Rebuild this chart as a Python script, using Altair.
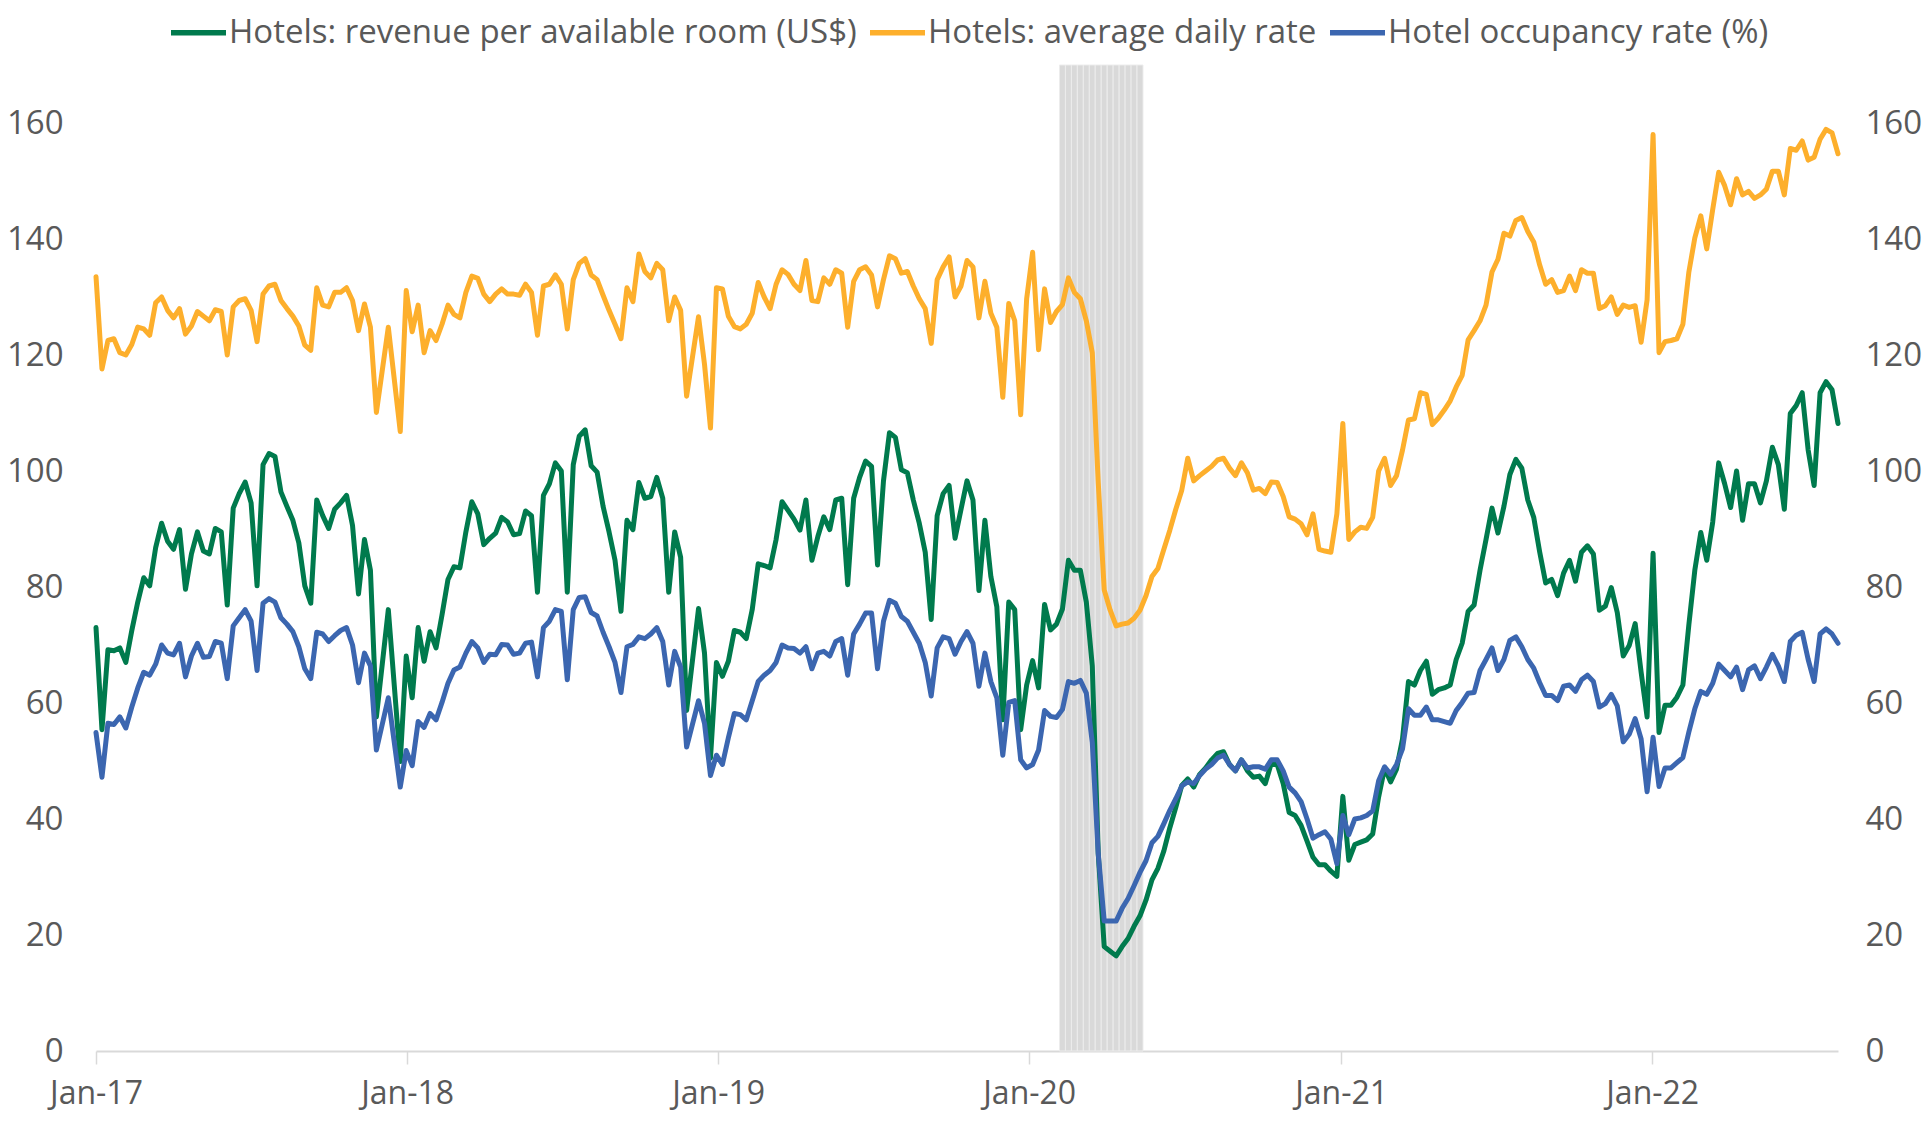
import json
import altair as alt
import pandas as pd

# ---- data (weekly, week 0 = first week of Jan 2017) ----
weeks = list(range(0, 48)) + [49] + list(range(51, 100)) + list(range(101, 293))

adr = [
    133.5, 117.6, 122.5, 122.8, 120.4, 120.0, 121.8, 124.8, 124.5, 123.4,
    129.0, 130.0, 127.7, 126.4, 128.0, 123.6, 125.0, 127.5, 126.7, 125.9,
    127.8, 127.5, 120.0, 128.3, 129.4, 129.7, 127.7, 122.3, 130.5, 131.9,
    132.2, 129.4, 128.0, 126.7, 125.0, 121.7, 120.8, 131.6, 128.6, 128.3,
    130.8, 130.8, 131.6, 129.4, 124.2, 128.8, 124.8, 110.1,
    124.8,
    106.8, 131.1, 124.0, 128.6, 120.4, 124.2, 122.5, 125.3, 128.6,
    127.0, 126.4, 130.8, 133.6, 133.2, 130.5, 129.2, 130.5, 131.4, 130.5,
    130.5, 130.3, 132.2, 130.8, 123.4, 131.9, 132.2, 133.8, 132.2, 124.5,
    133.0, 135.8, 136.6, 133.8, 133.0, 130.3, 127.7, 125.3, 122.8, 131.6,
    129.2, 137.4, 134.4, 133.3, 135.8, 134.7, 125.9, 130.0, 127.7, 112.9,
    126.6, 118.4, 107.4, 131.6, 131.4, 126.7, 124.9, 124.5, 125.3,
    127.2, 132.5, 130.0, 128.0, 132.2, 134.7, 133.9, 132.2, 131.1, 136.3,
    129.4, 129.2, 133.3, 132.2, 134.7, 134.1, 124.8, 132.7, 134.7, 135.2,
    133.8, 128.3, 133.0, 137.1, 136.6, 134.1, 134.4, 131.9, 129.7, 128.0,
    122.0, 133.0, 135.2, 136.9, 130.0, 131.9, 136.3, 135.2, 126.4, 132.7,
    127.2, 124.8, 112.7, 128.9, 125.9, 109.7, 129.7, 137.7, 120.9, 131.4,
    125.6, 127.5, 128.7, 133.3, 130.8, 129.7, 125.9, 120.4, 98.0, 79.5,
    76.0, 73.3, 73.6, 73.8, 74.6, 76.0, 78.5, 81.8, 83.2, 86.5,
    89.8, 93.4, 96.7, 102.2, 98.3, 99.2, 100.0, 100.8, 101.9, 102.2,
    100.5, 99.2, 101.4, 99.7, 96.7, 97.0, 96.1, 98.1, 98.0, 95.6,
    92.1, 91.7, 90.9, 89.0, 92.6, 86.5, 86.2, 86.0, 92.6, 108.2,
    88.2, 89.5, 90.3, 90.1, 92.0, 100.0, 102.2, 97.5, 99.2, 103.6,
    108.8, 109.0, 113.5, 113.2, 108.0, 109.1, 110.5, 112.1, 114.5, 116.5,
    122.6, 124.2, 125.9, 128.6, 134.3, 136.5, 141.0, 140.5, 143.2, 143.7,
    141.3, 139.5, 135.5, 132.2, 133.0, 130.8, 131.1, 133.6, 131.1, 134.7,
    134.1, 134.1, 128.0, 128.5, 130.0, 127.0, 128.6, 128.2, 128.5, 122.2,
    129.5, 158.0, 120.4, 122.3, 122.5, 122.8, 125.3, 134.3, 140.2, 144.0,
    138.3, 145.1, 151.5, 149.2, 145.9, 150.4, 147.6, 148.2, 147.0, 147.6,
    148.6, 151.7, 151.7, 147.6, 155.6, 155.3, 156.9, 153.6, 154.1, 157.2,
    158.9, 158.3, 154.7,
]

revpar = [
    73.0, 55.4, 69.2, 69.0, 69.5, 67.0, 72.5, 77.4, 81.6, 80.2,
    86.8, 91.0, 87.9, 86.5, 89.9, 79.6, 85.7, 89.5, 86.2, 85.7,
    90.1, 89.5, 76.9, 93.6, 96.1, 98.1, 94.5, 80.2, 101.1, 103.0,
    102.5, 96.4, 93.9, 91.5, 87.6, 80.2, 77.2, 95.0, 92.3, 90.1,
    93.4, 94.5, 95.8, 90.6, 78.8, 88.2, 82.9, 57.6,
    76.1,
    49.9, 68.1, 60.9, 73.0, 67.2, 72.3, 69.5, 75.2, 81.3,
    83.5, 83.3, 89.5, 94.7, 92.6, 87.3, 88.4, 89.3, 92.0, 91.2,
    89.0, 89.2, 93.1, 92.3, 79.1, 95.8, 97.8, 101.4, 100.0, 79.1,
    101.1, 106.0, 107.1, 100.9, 99.8, 93.9, 89.5, 84.6, 75.8, 91.5,
    89.9, 98.0, 95.3, 95.6, 98.9, 95.3, 79.1, 89.5, 85.1, 58.7,
    76.3, 68.6, 50.5, 67.0, 64.6, 67.2, 72.5, 72.2, 71.1,
    76.1, 84.0, 83.7, 83.3, 88.2, 94.7, 93.2, 91.7, 89.8, 95.0,
    84.6, 88.7, 92.1, 89.9, 95.0, 95.3, 80.4, 95.3, 98.9, 101.7,
    100.8, 83.8, 98.3, 106.6, 105.8, 100.2, 99.7, 95.0, 91.0, 86.0,
    74.4, 92.3, 96.1, 97.5, 88.4, 93.4, 98.3, 95.0, 79.4, 91.5,
    81.8, 76.6, 57.1, 77.4, 76.1, 55.4, 63.1, 67.3, 62.6, 77.0,
    72.6, 73.6, 76.2, 84.6, 82.9, 82.9, 77.4, 66.4, 34.0, 18.0,
    17.2, 16.4, 18.0, 19.4, 21.5, 23.3, 26.0, 29.5, 31.5, 34.5,
    38.5, 42.0, 45.8, 46.9, 45.5, 47.7, 48.8, 50.2, 51.3, 51.6,
    49.4, 48.3, 50.2, 48.3, 47.2, 47.4, 46.1, 49.6, 49.4, 46.1,
    41.1, 40.6, 38.9, 36.2, 33.4, 32.1, 32.1, 31.0, 30.1, 43.9,
    32.9, 35.6, 36.0, 36.4, 37.4, 43.8, 48.8, 46.4, 48.6, 53.8,
    63.7, 63.1, 65.6, 67.2, 61.5, 62.3, 62.6, 63.1, 67.5, 70.3,
    75.8, 76.9, 82.9, 88.2, 93.6, 89.3, 93.9, 99.4, 102.0, 100.5,
    95.0, 92.0, 86.0, 80.7, 81.3, 78.5, 82.4, 84.6, 81.0, 86.0,
    87.1, 85.7, 76.0, 76.7, 79.9, 75.6, 68.1, 69.9, 73.7, 65.3,
    57.6, 85.8, 54.9, 59.6, 59.6, 61.0, 63.1, 73.5, 82.9, 89.4,
    84.6, 91.2, 101.4, 97.8, 93.7, 100.0, 91.5, 97.8, 97.8, 94.5,
    98.3, 104.1, 101.1, 93.4, 109.9, 111.3, 113.5, 103.6, 97.5, 113.5,
    115.4, 114.0, 108.2,
]

occupancy = [
    54.9, 47.2, 56.5, 56.3, 57.6, 55.7, 59.3, 62.6, 65.3, 64.8,
    66.7, 70.0, 68.6, 68.3, 70.3, 64.5, 68.1, 70.3, 67.9, 68.0,
    70.6, 70.3, 64.2, 73.3, 74.7, 76.1, 74.1, 65.6, 77.2, 78.0,
    77.4, 74.7, 73.6, 72.3, 69.7, 65.9, 64.2, 72.2, 71.9, 70.6,
    71.6, 72.5, 73.0, 70.0, 63.5, 68.6, 66.4, 51.9,
    60.9,
    45.5, 51.8, 49.2, 56.8, 55.8, 58.2, 57.1, 60.1, 63.4,
    65.7, 66.2, 68.6, 70.6, 69.5, 67.0, 68.4, 68.3, 70.1, 70.0,
    68.4, 68.6, 70.3, 70.5, 64.5, 73.0, 74.1, 76.1, 75.8, 64.0,
    76.1, 78.2, 78.3, 75.6, 75.0, 72.2, 69.7, 67.0, 61.8, 69.7,
    70.1, 71.4, 71.1, 71.9, 73.0, 70.6, 63.1, 68.9, 66.2, 52.4,
    60.4, 56.5, 47.5, 51.0, 49.4, 54.0, 58.2, 58.0, 57.1,
    60.4, 63.7, 64.8, 65.6, 67.0, 70.0, 69.5, 69.4, 68.6, 69.7,
    65.9, 68.6, 68.9, 68.1, 70.6, 71.1, 64.8, 71.9, 73.6, 75.5,
    75.5, 65.9, 74.1, 77.7, 77.2, 74.9, 74.1, 72.2, 70.3, 67.0,
    61.2, 69.5, 71.4, 71.1, 68.4, 70.6, 72.3, 70.3, 62.9, 68.6,
    63.7, 60.9, 51.0, 60.1, 60.4, 50.2, 48.8, 49.4, 51.9, 58.7,
    57.7, 57.5, 58.9, 63.7, 63.4, 63.9, 61.7, 53.2, 34.0, 22.4,
    22.4, 22.4, 24.6, 26.3, 28.5, 30.8, 32.8, 35.9, 37.0, 39.2,
    41.5, 43.5, 45.7, 46.4, 46.1, 47.5, 48.6, 49.4, 50.5, 51.0,
    49.4, 48.3, 50.2, 48.8, 49.0, 49.0, 48.6, 50.2, 50.2, 48.3,
    45.5, 44.5, 43.0, 40.0, 36.7, 37.3, 37.8, 36.5, 32.3, 40.6,
    37.3, 40.0, 40.2, 40.6, 41.4, 46.6, 49.0, 47.7, 49.4, 52.1,
    59.0, 57.9, 57.9, 59.3, 57.1, 57.1, 56.8, 56.5, 58.7, 60.1,
    61.7, 61.8, 65.6, 67.5, 69.5, 65.6, 67.5, 70.8, 71.4, 69.7,
    67.5, 66.0, 63.5, 61.3, 61.3, 60.4, 62.9, 63.1, 62.0, 64.0,
    64.8, 63.7, 59.3, 59.9, 61.5, 59.5, 53.3, 54.6, 57.3, 53.8,
    44.7, 54.1, 45.6, 48.8, 48.8, 49.7, 50.6, 55.0, 59.0, 62.0,
    61.5, 63.4, 66.7, 65.6, 64.5, 66.2, 62.3, 65.7, 66.4, 64.2,
    66.2, 68.4, 66.4, 63.7, 70.6, 71.7, 72.2, 67.5, 63.7, 71.9,
    72.8, 71.9, 70.3,
]

series_names = [
    "Hotels: revenue per available room (US$)",
    "Hotels: average daily rate",
    "Hotel occupancy rate (%)",
]
series_colors = ["#007A4D", "#FDAF2C", "#3B66B0"]

# x-axis ticks: 1 January of each year, expressed in weeks since 1 Jan 2017
year_tick_weeks = [0, 52.143, 104.286, 156.429, 208.714, 260.857]
year_labels = ["Jan-17", "Jan-18", "Jan-19", "Jan-20", "Jan-21", "Jan-22"]

# recession shading (weekly columns, Feb–Apr 2020)
band_weeks = [162, 163, 164, 165, 166, 167, 168, 169, 170, 171, 172, 173, 174, 175]

y_ticks = [0, 20, 40, 60, 80, 100, 120, 140, 160]

# ---- build tables ----
assert len(weeks) == len(adr) == len(revpar) == len(occupancy), (
    len(weeks), len(adr), len(revpar), len(occupancy))

rows = []
for name, vals in zip(series_names, [revpar, adr, occupancy]):
    for w, v in zip(weeks, vals):
        rows.append({"week": w, "value": v, "series": name})
df = pd.DataFrame(rows)

band_df = pd.DataFrame({
    "x0": [w - 0.5 for w in band_weeks],
    "x1": [w + 0.5 for w in band_weeks],
    "y0": [0] * len(band_weeks),
    "y1": [170] * len(band_weeks),
})

FONT = "Open Sans"
TXT = "#595959"

xscale = alt.Scale(domain=[0, 292], nice=False, zero=False)
yscale = alt.Scale(domain=[0, 170], nice=False)

label_expr = json.dumps(year_labels) + "[round(datum.value / 52.18)]"
xaxis = alt.Axis(
    values=year_tick_weeks, labelExpr=label_expr, title=None, grid=False,
    domainColor="#d9d9d9", domainWidth=2, tickColor="#d9d9d9", tickWidth=1.5,
    tickSize=13, labelFontSize=32, labelFont=FONT, labelColor=TXT,
    labelPadding=14, labelOverlap=False, labelFlush=False,
)
left_axis = alt.Axis(
    values=y_ticks, orient="left", title=None, grid=False, domain=False,
    ticks=False, labelFontSize=33, labelFont=FONT, labelColor=TXT,
    labelPadding=33,
)
right_axis = alt.Axis(
    values=y_ticks, orient="right", title=None, grid=False, domain=False,
    ticks=False, labelFontSize=33, labelFont=FONT, labelColor=TXT,
    labelPadding=27,
)

color_scale = alt.Scale(domain=series_names, range=series_colors)
legend = alt.Legend(
    title=None, orient="none", legendX=72, legendY=-63, direction="horizontal",
    symbolType="stroke", symbolSize=3025, symbolStrokeWidth=5.5,
    labelFontSize=33, labelFont=FONT, labelColor=TXT, labelOffset=0,
    columnPadding=2, labelLimit=0, padding=0,
)

band = alt.Chart(band_df).mark_rect(
    color="#d9d9d9", stroke="#ececec", strokeWidth=1
).encode(
    x=alt.X("x0:Q", scale=xscale, axis=xaxis),
    x2="x1:Q",
    y=alt.Y("y0:Q", scale=yscale, axis=left_axis),
    y2="y1:Q",
)

line_layers = []
for name in series_names:
    line_layers.append(
        alt.Chart(df).transform_filter(alt.datum.series == name).mark_line(
            strokeWidth=5, strokeJoin="round", strokeCap="round"
        ).encode(
            x=alt.X("week:Q", scale=xscale),
            y=alt.Y("value:Q", scale=yscale),
            color=alt.Color("series:N", scale=color_scale, legend=legend),
        )
    )

left = alt.layer(band, *line_layers)

right = alt.Chart(df).mark_line(opacity=0).encode(
    x=alt.X("week:Q", scale=xscale),
    y=alt.Y("value:Q", scale=yscale, axis=right_axis),
    detail="series:N",
)

chart = alt.layer(left, right).resolve_scale(y="independent").properties(
    width=1742, height=986,
    padding={"left": 88, "top": 57, "right": 86, "bottom": 62},
    autosize=alt.AutoSizeParams(type="none"),
    background="white",
).configure_view(stroke=None)

chart.save("out.html", embed_options={"renderer": "svg", "actions": False})
